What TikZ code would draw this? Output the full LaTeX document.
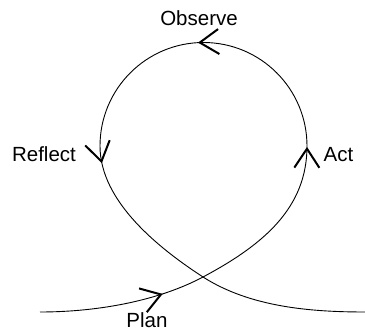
\documentclass[tikz,border=0pt]{standalone}
\usepackage{fontspec}
\setmainfont{Liberation Sans}
\usepackage{tikz}
\usetikzlibrary{arrows.meta,decorations.markings}

\tikzset{
  loopline/.style={line width=0.9pt},
  barb/.style={postaction={decorate},decoration={markings,
    mark=at position #1 with {\arrow{Straight Barb[length=19pt,width=25pt,line width=2pt]}}}},
  lbl/.style={font=\fontsize{20.5}{24}\selectfont,inner sep=0pt,anchor=base}
}

\begin{document}
\begin{tikzpicture}[x=1pt,y=1pt]
\useasboundingbox (0,0) rectangle (365,332);
% key points of the loop
\coordinate (start) at (40,20);
\coordinate (cross) at (203,55);
\coordinate (rside) at (307,186);
\coordinate (lside) at (100,186);
\coordinate (stop) at (365,20);
% plan -> act
\draw[loopline,barb=0.74] (start) .. controls (100,20) and (160,32) .. (cross);
\draw[loopline,barb=0.995] (cross) .. controls (265,88) and (307,125) .. (rside);
% act -> observe -> reflect
\draw[loopline,barb=0.517] (rside) arc[start angle=0,end angle=180,radius=103.5];
% reflect -> out
\draw[loopline,barb=0.1] (lside) .. controls (100,130) and (160,83) .. (cross);
\draw[loopline] (cross) .. controls (250,25) and (310,20) .. (stop);
% labels
\node[lbl] (obs) at (199,306) {Observe};
\node[lbl] (refl) at (44,170) {Reflect};
\node[lbl] (act) at (338.5,170) {Act};
\node[lbl] (plan) at (147,4.5) {Plan};
\end{tikzpicture}
\end{document}
